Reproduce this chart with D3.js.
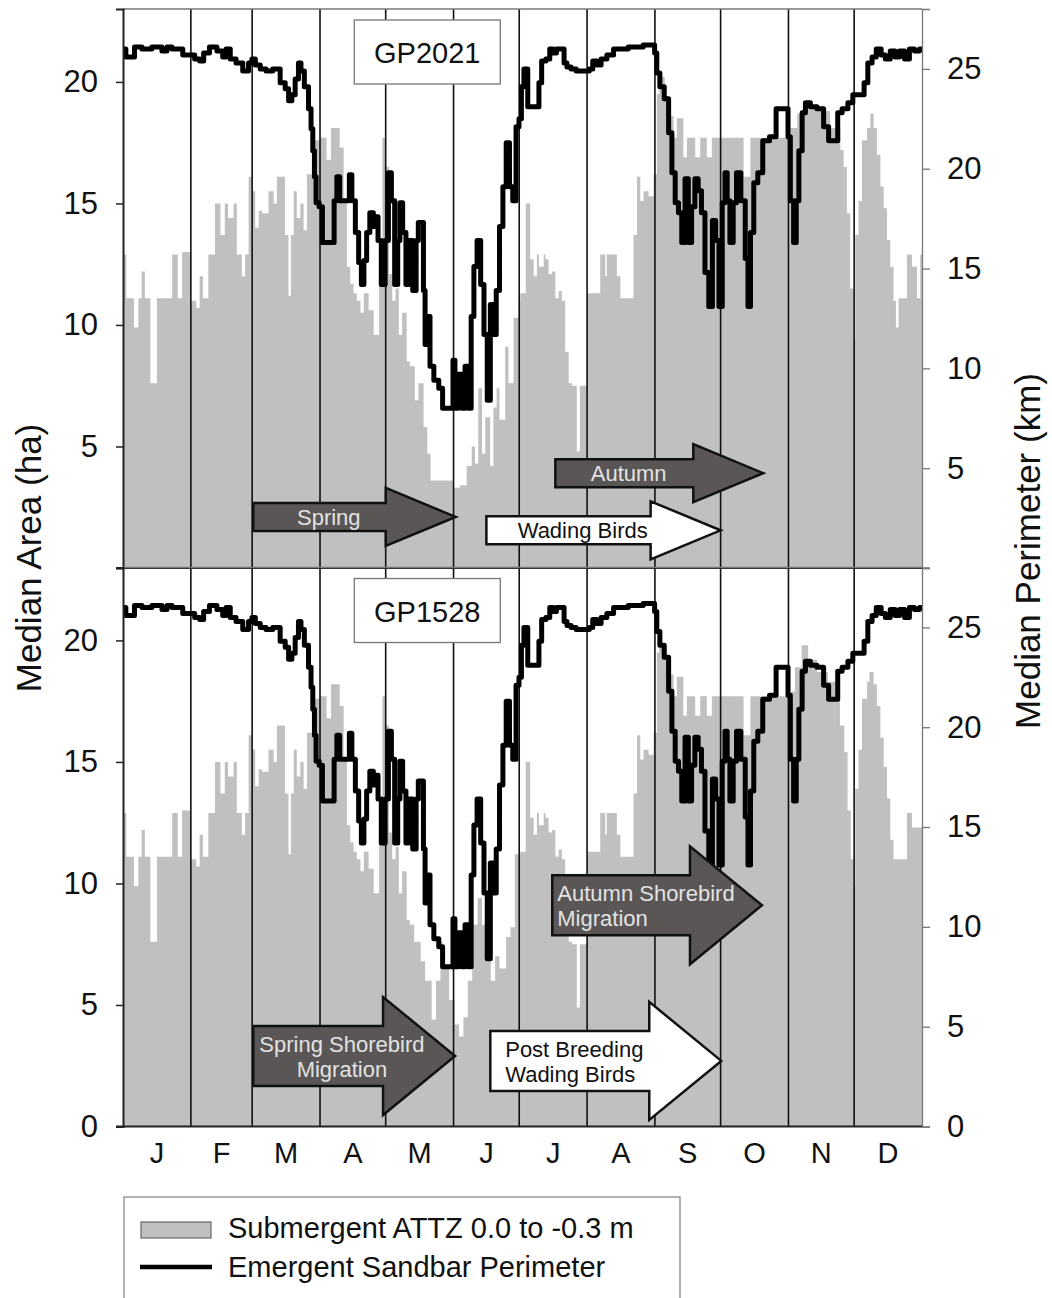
<!DOCTYPE html>
<html>
<head>
<meta charset="utf-8">
<script src="https://cdn.jsdelivr.net/npm/d3@7"></script>
<style>
  body { margin: 0; background: #fff; }
  svg { display: block; font-family: "Liberation Sans", Arial, sans-serif; }
</style>
</head>
<body>
<svg id="chart" width="1052" height="1298"></svg>
<script>
// month letters and the day each month starts on
const monthLabels = ["J", "F", "M", "A", "M", "J", "J", "A", "S", "O", "N", "D"];
const monthStarts = [0, 31, 59, 90, 120, 151, 181, 212, 243, 273, 304, 334, 365];
const areaTicks = [0, 5, 10, 15, 20];
const perimTicks = [0, 5, 10, 15, 20, 25];

// [day of year, median area (ha)] - submergent ATTZ
const areaGP2021 = [
  [0,12.9],[1.5,11.1],[5,9.9],[7,11.1],[8.5,12.2],[10,11.1],[12.5,7.6],[15.5,11.1],[22.5,12.9],[25,11.1],[27,13.0],
  [31,11.0],[33.5,10.7],[35,12.0],[36.5,11.1],[39,12.9],[42,15.0],[44.5,13.7],[46.5,15.0],[48,14.4],[50.5,15.0],[52,12.9],[54.3,12.0],[55.8,12.9],[57.4,16.1],[59,15.5],
  [60.4,14.0],[62,14.7],[63.5,14.6],[66.5,15.5],[68.8,15.0],[70.3,16.1],[74,13.7],[75.6,11.2],[76.7,13.7],[78,15.5],[79.4,14.4],[81,15.0],[82.5,13.9],[84,16.2],[87,17.6],[90,17.7],
  [93,16.8],[95,18.1],[99,17.3],[100.8,15.1],[102.3,12.4],[103.8,11.7],[105.3,11.3],[106.8,11.0],[108.5,10.5],[110,11.3],[112.2,10.6],[114.5,9.6],[117,12.1],[118.5,17.7],[120,16.5],
  [121.5,12.1],[123,11.0],[124.5,11.5],[126,9.6],[127.5,10.5],[129.6,8.5],[131,8.3],[133.3,6.9],[135,7.6],[137.3,5.8],[139,4.7],[140.5,3.6],
  [151,3.3],[154,3.4],[157,4.2],[159.3,5.0],[160.8,4.3],[162.3,7.4],[164,4.7],[165.5,6.2],[167.7,4.2],[169.2,6.6],[170.7,7.4],[172,6.1],[174.6,9.1],[176.1,7.6],[178.4,10.3],[180.7,11.0],
  [181.5,11.3],[184,15.0],[186,12.7],[187.6,12.0],[189.1,12.9],[190,12.4],[192.2,12.9],[193,12.7],[194.4,12.1],[196,12.2],[197.5,11.1],[199,11.4],[200.5,11.0],[202,8.9],[203.6,7.6],[205.1,7.5],[207.3,4.8],[208.7,7.5],[211.9,11.3],
  [218,12.9],[220.3,12.0],[221,12.9],[225.6,12.0],[227.2,11.1],[233.2,13.7],[234.8,16.1],[236.3,15.1],[237.8,15.5],[240.1,15.3],[242.4,16.2],
  [243.9,19.5],[245,20.2],[247.5,19.4],[249,18.6],[251.5,17.7],[253,18.5],[256,16.9],[257.6,17.7],[261.4,16.9],[263.7,17.7],[266.7,16.9],[269,17.7],
  [283.5,16.1],[286.6,17.7],
  [304.9,18.1],[308,18.7],[311,18.9],[318,18.8],[323,18.1],[327.7,17.2],[329.2,16.5],[330.7,14.6],[332.2,11.5],[333.8,9.4],
  [334.5,13.7],[336,15.1],[337.6,17.6],[339.9,18.1],[341.4,18.7],[342.9,18.1],[344.4,17.0],[346,15.7],[347.5,14.8],[349,13.5],[350.5,12.4],[352,11.0],[353.1,9.9],[354.3,11.1],[358.1,12.9],[360.4,12.4],[362.7,11.1],[364.2,12.9],[365,12.9]
];

const areaGP1528 = [
  [0,12.9],[1.5,11.1],[5,9.9],[7,11.1],[8.5,12.2],[10,11.1],[12.5,7.6],[15.5,11.1],[22.5,12.9],[25,11.1],[27,13.0],
  [31,11.0],[33.5,10.7],[35,12.0],[36.5,11.1],[39,12.9],[42,15.0],[44.5,13.7],[46.5,15.0],[48,14.4],[50.5,15.0],[52,12.9],[54.3,12.0],[55.8,12.9],[57.4,16.1],[59,15.5],
  [60.4,14.0],[62,14.7],[63.5,14.6],[66.5,15.5],[68.8,15.0],[70.3,16.5],[74,13.7],[75.6,11.2],[76.7,13.7],[78,15.5],[79.4,14.4],[81,15.0],[82.5,13.9],[84,16.2],[87,17.6],[90,17.7],
  [93,16.8],[95,18.2],[99,17.3],[100.8,15.1],[102.3,12.4],[103.8,11.7],[105.3,11.3],[106.8,11.0],[108.5,10.5],[110,11.3],[112.2,10.6],[114.5,9.6],[117,12.1],[118.5,17.7],[120,16.5],
  [121.5,12.1],[123,11.0],[124.5,11.5],[126,9.6],[127.5,10.5],[129.6,8.5],[131,8.3],[133,7.6],[136,6.8],[138,6.0],[141,4.4],[143,6.0],[145,7.6],[146,6.5],[149,5.2],[151.5,4.2],[153.5,3.7],[155.5,4.5],[157.5,6.0],
  [159.5,8.3],[162,9.4],[164,8.3],[166,7.2],[168,6.0],[170,7.0],[172,6.5],[175,7.8],[177,8.2],[179,11.2],
  [181.5,11.3],[184,15.0],[186,12.7],[187.6,12.0],[189.1,12.9],[190,12.4],[192.2,12.9],[193,12.7],[194.4,12.1],[196,12.2],[197.5,11.1],[199,11.4],[200.5,11.0],[202,8.9],[203.6,7.6],[205.1,7.5],[207.3,4.9],[208.7,7.5],[211.9,11.3],
  [218,12.9],[220.3,12.0],[221,12.9],[225.6,12.0],[227.2,11.1],[233.2,13.7],[234.8,16.1],[236.3,15.1],[237.8,15.5],[240.1,15.3],[242.4,16.2],
  [243.9,19.5],[245,19.8],[247.5,19.4],[249,18.6],[251.5,17.7],[253,18.5],[256,16.9],[257.6,17.7],[261.4,16.9],[263.7,17.7],[266.7,16.9],[269,17.7],
  [283.5,16.1],[286.6,17.7],
  [304.9,17.9],[307,18.9],[310,19.8],[313,19.2],[317,18.7],[322,18.3],[325.5,17.8],[327.5,16.5],[329.5,15.4],[331,13.0],[332.5,11.0],[333.8,9.9],
  [334.5,13.9],[336,15.5],[337.6,17.6],[339.9,18.3],[341,18.7],[342.9,18.2],[344.4,17.3],[346,16.0],[347.5,14.8],[349,13.5],[350.5,11.8],[352,11.0],[358.1,12.9],[360.4,12.3],[365,12.3]
];

// [day of year, median perimeter (km)] - emergent sandbar, same in both panels
const perimeterKm = [
  [0,26.0],[2.6,25.6],[7.9,26.1],[9.4,26.0],[17,26.1],[18.6,25.9],[21.6,26.1],[23.1,26.0],[31.5,25.7],[34,25.5],[36.1,25.4],[37.6,25.8],[41.4,26.1],[44.4,25.9],[46.7,25.6],[47.5,26.0],[50.5,25.5],[52.8,25.3],[56.6,24.9],[58.1,25.3],[59.7,25.5],[61.2,25.2],[64.2,25.0],[66.5,24.9],[70.3,25.0],[73.3,24.3],[74.9,24.0],[76.4,23.4],[77.9,23.7],[79.4,24.5],[80.9,25.3],[81.7,24.9],[84,24.1],[85.5,23.0],[86.3,22.0],[87.1,20.9],[87.8,19.6],[88.6,18.3],[90.6,18.1],[91.6,16.3],[96,16.3],
  [96.9,18.4],[98.5,19.6],[99.5,18.4],[103,18.4],[103.8,19.7],[105.3,18.4],[107,16.8],[108.3,15.3],[109.5,14.2],[110.6,15.4],[112,16.8],[113.5,17.8],[115.2,17.1],[116,17.6],[117,16.4],[119,14.2],[120.5,16.4],[122,19.8],[123.2,18.4],[125,14.2],[126,16.4],[127,18.3],[128.5,16.8],[130,14.2],[131.2,16.4],[133.5,13.9],[134.3,16.4],[135.5,17.3],[137,17.3],[137.5,13.9],[138.5,11.2],[139.5,12.6],[141,10.1],[143,9.4],[145.5,9.0],[146.5,8.0],[150.5,8.0],
  [151,10.4],[152.3,8.0],[154,9.7],[155.5,8.0],[157,10.1],[158.5,8.0],[159.6,12.6],[161,15.1],[162.5,16.4],[164.3,14.2],[165.5,11.7],[167.3,8.4],[168.3,13.2],[169.8,11.7],[171.2,13.9],[172.8,17.1],[174.3,19.1],[175.8,21.3],[177.3,19.1],[178.8,18.4],[180.3,22.1],
  [181.5,22.5],[182.5,24.1],[183.8,25.0],[186,23.1],[189.5,23.1],[190.5,24.3],[192,25.4],[194.4,25.5],[195.5,26.0],[197.5,25.8],[198.5,26.0],[201,26.0],[202,25.3],[203.6,25.1],[205.8,25.0],[208.2,24.9],[212.5,24.9],[213.5,25.0],[215.7,25.4],[217.3,25.2],[219.5,25.5],[222.6,25.7],[225.6,26.0],[236,26.1],[239.3,26.2],[242.5,26.2],
  [243.2,25.8],[244.5,24.8],[246,24.1],[248.5,23.5],[250,21.8],[251.5,19.8],[253,18.3],[254.5,17.8],[256,16.3],[257.5,19.5],[259,16.3],[260.5,18.1],[262,19.5],[263.5,18.9],[265,17.8],[266.7,14.8],[268.5,13.1],[270,17.4],[271.5,16.4],[273,13.1],
  [274.5,18.3],[275.5,19.8],[276.5,18.4],[278,16.3],[279.5,18.3],[281,19.8],[283.5,18.4],[285,15.5],[286,13.1],[287.3,16.8],[289,19.3],[291,19.8],[293.5,21.4],[297.2,21.6],[299.5,23.0],[303.5,23.0],
  [304.1,21.6],[305.6,18.4],[307.1,16.3],[308,18.4],[309.5,20.9],[311,22.8],[312.5,23.3],[315.5,23.1],[318.5,23.0],[321.6,22.1],[323.1,21.4],[326,21.4],[327,22.8],[330,23.0],[332.3,23.3],
  [334.5,23.7],[338,23.7],[339.1,24.3],[341.4,25.3],[343,25.6],[345.2,26.0],[347.5,25.7],[349,25.5],[352,25.9],[353.5,25.6],[356,25.9],[358.1,25.5],[360.4,26.0],[362.7,25.9],[365,26.0]
];

// migration arrows: day span, level on the area axis, label
const panels = [
  {
    site: "GP2021", area: areaGP2021, zeroLabel: false,
    arrows: [
      { lines: ["Spring"], from: 59.5, to: 152, at: 2.1, dark: true, textDay: 94, anchor: "middle" },
      { lines: ["Wading Birds"], from: 166, to: 273, at: 1.55, dark: false, textDay: 210, anchor: "middle" },
      { lines: ["Autumn"], from: 197.5, to: 292.5, at: 3.9, dark: true, textDay: 231, anchor: "middle" }
    ]
  },
  {
    site: "GP1528", area: areaGP1528, zeroLabel: true,
    arrows: [
      { lines: ["Spring Shorebird", "Migration"], from: 59.5, to: 151.7, at: 2.9, dark: true, textDay: 100, anchor: "middle", big: true },
      { lines: ["Post Breeding", "Wading Birds"], from: 167.8, to: 273.3, at: 2.7, dark: false, textDay: 174.6, anchor: "start", big: true },
      { lines: ["Autumn Shorebird", "Migration"], from: 196.1, to: 291.9, at: 9.1, dark: true, textDay: 198.4, anchor: "start", big: true }
    ]
  }
];

const svg = d3.select("#chart");
const left = 123, right = 922;
const panelTops = [9, 567.5];
const panelH = 559;

const x = d3.scaleLinear().domain([0, 365]).range([left, right]);

function arrowPath(x0, xt, cy, shaft, head, headLen) {
  const xb = xt - headLen;
  return `M${x0},${cy - shaft}H${xb}V${cy - head}L${xt},${cy}L${xb},${cy + head}V${cy + shaft}H${x0}Z`;
}

panels.forEach((p, i) => {
  const top = panelTops[i], bottom = top + panelH;
  const y = d3.scaleLinear().domain([0, 23]).range([bottom, top]);
  const y2 = d3.scaleLinear().domain([0, 28]).range([bottom, top]);
  const g = svg.append("g");

  // submergent area (grey)
  g.append("path")
    .datum(p.area)
    .attr("fill", "#c0c0c0")
    .attr("d", d3.area()
      .curve(d3.curveStepAfter)
      .x(d => x(d[0]))
      .y0(bottom)
      .y1(d => y(d[1])));

  // month separators
  g.selectAll(".month")
    .data(monthStarts.slice(1, 12))
    .join("line")
    .attr("x1", d => x(d)).attr("x2", d => x(d))
    .attr("y1", top).attr("y2", bottom)
    .attr("stroke", "#111").attr("stroke-width", 1.6);

  // perimeter line (daily medians -> stair-stepped)
  g.append("path")
    .datum(perimeterKm)
    .attr("fill", "none")
    .attr("stroke", "#000")
    .attr("stroke-width", 5)
    .attr("stroke-linejoin", "round")
    .attr("d", d3.line()
      .curve(d3.curveStep)
      .x(d => x(d[0]))
      .y(d => y2(d[1])));

  // frame: top and right in grey, left and bottom dark
  g.append("line").attr("x1", left).attr("x2", right).attr("y1", top).attr("y2", top)
    .attr("stroke", "#777").attr("stroke-width", 1.3);

  // left axis
  const la = g.append("g")
    .attr("transform", `translate(${left},0)`)
    .call(d3.axisLeft(y).tickValues(areaTicks).tickSize(7).tickPadding(18)
      .tickFormat(d => (d === 0 && !p.zeroLabel) ? "" : d));
  la.select(".domain").attr("stroke", "#222").attr("stroke-width", 2);
  la.selectAll(".tick line").attr("stroke", "#222").attr("stroke-width", 1.5);
  la.selectAll(".tick text").attr("font-size", 31).attr("fill", "#111")
    .attr("font-family", "Liberation Sans, Arial, sans-serif");

  // right axis
  const ra = g.append("g")
    .attr("transform", `translate(${right},0)`)
    .call(d3.axisRight(y2).tickValues(perimTicks).tickSize(8).tickPadding(17)
      .tickFormat(d => (d === 0 && !p.zeroLabel) ? "" : d));
  ra.select(".domain").attr("stroke", "#777").attr("stroke-width", 1.3);
  ra.selectAll(".tick line").attr("stroke", "#777").attr("stroke-width", 1.3);
  ra.selectAll(".tick text").attr("font-size", 31).attr("fill", "#111")
    .attr("font-family", "Liberation Sans, Arial, sans-serif");

  // bottom line of the panel
  g.append("line").attr("x1", left - 7).attr("x2", right).attr("y1", bottom).attr("y2", bottom)
    .attr("stroke", "#222").attr("stroke-width", 2);

  // site label box
  const bx = x(139) - 73, by = top + 11;
  g.append("rect").attr("x", bx).attr("y", by).attr("width", 146).attr("height", 64)
    .attr("fill", "#fff").attr("stroke", "#777").attr("stroke-width", 1.3);
  g.append("text").attr("x", bx + 73).attr("y", by + 43)
    .attr("text-anchor", "middle").attr("font-size", 29).attr("fill", "#111")
    .text(p.site);

  // migration arrows
  p.arrows.forEach(a => {
    const cy = y(a.at);
    const shaft = a.big ? 30 : 14;
    const head = a.big ? 59 : 29;
    const headLen = a.big ? 72 : 70;
    g.append("path")
      .attr("d", arrowPath(x(a.from), x(a.to), cy, shaft, head, headLen))
      .attr("fill", a.dark ? "#5a5656" : "#fff")
      .attr("stroke", "#111").attr("stroke-width", 2.5)
      .attr("stroke-linejoin", "miter");
    const t = g.append("text")
      .attr("text-anchor", a.anchor)
      .attr("font-size", 22)
      .attr("fill", a.dark ? "#e2e2e2" : "#111");
    const first = a.lines.length === 1 ? cy + 8 : cy - 4;
    a.lines.forEach((ln, k) => {
      t.append("tspan").attr("x", x(a.textDay)).attr("y", first + k * 25).text(ln);
    });
  });
});

// month letters under the lower panel
const axisBottom = panelTops[1] + panelH;
svg.append("g").selectAll("text")
  .data(monthLabels)
  .join("text")
  .attr("x", (d, i) => x((monthStarts[i] + monthStarts[i + 1]) / 2))
  .attr("y", axisBottom + 36)
  .attr("text-anchor", "middle")
  .attr("font-size", 29)
  .attr("fill", "#111")
  .text(d => d);

// axis titles
svg.append("text")
  .attr("transform", "translate(41,558) rotate(-90)")
  .attr("text-anchor", "middle").attr("font-size", 35).attr("fill", "#111")
  .text("Median Area (ha)");
svg.append("text")
  .attr("transform", "translate(1040,551) rotate(-90)")
  .attr("text-anchor", "middle").attr("font-size", 35).attr("fill", "#111")
  .text("Median Perimeter (km)");

// legend
const lg = svg.append("g");
lg.append("rect").attr("x", 124).attr("y", 1197).attr("width", 556).attr("height", 120)
  .attr("fill", "#fff").attr("stroke", "#888").attr("stroke-width", 1.3);
lg.append("rect").attr("x", 141).attr("y", 1222).attr("width", 70).attr("height", 16)
  .attr("fill", "#c0c0c0").attr("stroke", "#666").attr("stroke-width", 1.2);
lg.append("text").attr("x", 228).attr("y", 1238).attr("font-size", 29).attr("fill", "#111")
  .text("Submergent ATTZ 0.0 to -0.3 m");
lg.append("line").attr("x1", 140).attr("x2", 212).attr("y1", 1267).attr("y2", 1267)
  .attr("stroke", "#000").attr("stroke-width", 4.5);
lg.append("text").attr("x", 228).attr("y", 1277).attr("font-size", 29).attr("fill", "#111")
  .text("Emergent Sandbar Perimeter");
</script>
</body>
</html>
